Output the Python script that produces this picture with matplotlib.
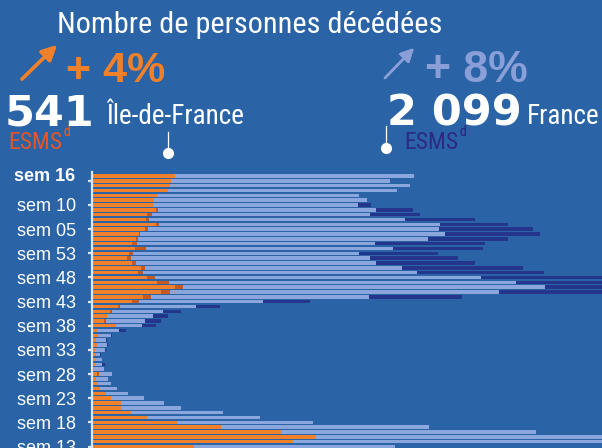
import matplotlib
matplotlib.use("Agg")
import matplotlib.pyplot as plt
from matplotlib.lines import Line2D
from matplotlib import font_manager
import numpy as np

# ---- data (top row = week 16 of 2021, bottom row = week 13 of 2020) ----
weeks = list(range(16, 0, -1)) + list(range(53, 12, -1))
fr_hosp = [2099, 1945, 2075, 1993, 1743, 1793, 1734, 1854, 1815, 2043,
           2273, 2262, 2304, 2193, 1845, 1964, 1743, 1815, 1852, 2023,
           2121, 2540, 2766, 2956, 2658, 1808, 1119, 680, 465, 398,
           348, 328, 176, 126, 95, 98, 85, 54, 65, 67,
           80, 132, 104, 124, 167, 235, 339, 473, 580, 858,
           1095, 1445, 2197, 2895, 3700, 3500, 1976]
fr_esms = [0, 0, 0, 0, 0, 0, 85, 239, 326, 458,
           439, 613, 619, 524, 717, 588, 517, 576, 647, 786,
           828, 950, 900, 800, 850, 606, 304, 155, 117, 100,
           106, 89, 46, 8, 7, 7, 8, 5, 0, 18,
           0, 0, 0, 0, 0, 0, 0, 0, 0, 0,
           0, 0, 0, 0, 0, 0, 0]
idf_hosp = [541, 515, 509, 497, 426, 408, 400, 419, 361, 354,
            419, 348, 308, 292, 263, 284, 243, 230, 263, 321,
            302, 361, 426, 541, 450, 334, 263, 171, 121, 102,
            80, 160, 35, 41, 30, 37, 20, 30, 20, 20,
            17, 35, 30, 37, 56, 93, 124, 189, 191, 258,
            363, 554, 845, 1236, 1464, 1314, 667]
idf_esms = [0, 0, 0, 0, 0, 0, 0, 11, 35, 20,
            20, 22, 8, 12, 31, 68, 26, 24, 28, 24,
            31, 50, 80, 52, 59, 50, 44, 13, 11, 0,
            11, 0, 0, 0, 0, 0, 0, 0, 0, 0,
            0, 11, 0, 0, 0, 0, 0, 0, 0, 0,
            0, 0, 0, 0, 0, 0, 0]

BG = "#2a64a6"
ORANGE = "#f0802a"
DARK_ORANGE = "#c45a22"
LIGHT = "#8aa6dc"
NAVY = "#24368c"
AXIS = "#dfe4ee"
LAVENDER = "#8a9fd8"

# pick a condensed family if one is installed, otherwise shrink Liberation Sans
installed = {f.name for f in font_manager.fontManager.ttflist}
narrow_name = None
for cand in ["Liberation Sans Narrow", "DejaVu Sans Condensed", "Roboto Condensed",
             "Open Sans Condensed"]:
    if cand in installed:
        narrow_name = cand
        break
if narrow_name is not None:
    NARROW = [narrow_name, "DejaVu Sans"]
    K = 1.0
else:
    NARROW = ["Liberation Sans", "DejaVu Sans"]
    K = 0.86
SANS = ["Liberation Sans", "DejaVu Sans"]

W, H = 602, 448
fig = plt.figure(figsize=(W / 100, H / 100), dpi=100, facecolor=BG)

x_left = 91.7
ax = fig.add_axes([x_left / W, 0, (W - x_left) / W, (H - 172) / H])
ax.set_facecolor(BG)

rows = np.arange(len(weeks))
fr_hosp_a = np.array(fr_hosp)
idf_hosp_a = np.array(idf_hosp)
bh = 0.72
ax.barh(rows, fr_hosp_a, height=bh, color=LIGHT, zorder=2)
ax.barh(rows, fr_esms, left=fr_hosp_a, height=bh, color=NAVY, zorder=2)
ax.barh(rows, idf_hosp_a, height=bh, color=ORANGE, zorder=3)
ax.barh(rows, idf_esms, left=idf_hosp_a, height=bh, color=DARK_ORANGE, zorder=3)

ax.set_xlim(0, 3327)
ax.set_ylim(56.31, -0.83)
for s in ["top", "right", "bottom"]:
    ax.spines[s].set_visible(False)
ax.spines["left"].set_color(AXIS)
ax.spines["left"].set_linewidth(1.6)
ax.spines["left"].set_zorder(5)
ax.set_xticks([])

tick_rows = rows[1::5]
tick_labels = ["" if i == 1 else "sem %02d" % weeks[i] for i in tick_rows]
ax.set_yticks(tick_rows)
ax.set_yticklabels(tick_labels, fontsize=13, color="white", family=SANS)
ax.tick_params(axis="y", length=3, width=1.6, color=AXIS, pad=8.5)
ax.text(-0.033, 0, "sem %02d" % weeks[0], transform=ax.get_yaxis_transform(),
        ha="right", va="center", fontsize=13, fontweight="bold", color="white",
        family=SANS, clip_on=False)


def fx(x):
    return x / W


def fy(y):
    return 1 - y / H


# ---- header ----
fig.text(fx(57), fy(33), "Nombre de personnes décédées", color="white",
         fontsize=21.8 * K, family=NARROW, va="baseline", ha="left")

fig.add_artist(plt.annotate("", xy=(fx(59), fy(43)), xytext=(fx(20), fy(81)),
                            xycoords="figure fraction", textcoords="figure fraction",
                            arrowprops=dict(arrowstyle="-|>,head_length=0.9,head_width=0.45",
                                            color=ORANGE, lw=2.4)))
fig.text(fx(66), fy(82), "+ 4%", color=ORANGE, fontsize=31, fontweight="bold",
         family=SANS, va="baseline", ha="left")

fig.add_artist(plt.annotate("", xy=(fx(416), fy(46)), xytext=(fx(383), fy(80)),
                            xycoords="figure fraction", textcoords="figure fraction",
                            arrowprops=dict(arrowstyle="-|>,head_length=0.8,head_width=0.4",
                                            color=LAVENDER, lw=1.8)))
fig.text(fx(425), fy(82), "+ 8%", color=LAVENDER, fontsize=32, fontweight="bold",
         family=SANS, va="baseline", ha="left")

fig.text(fx(5), fy(125), "541", color="white", fontsize=31, fontweight="bold",
         family="DejaVu Sans", va="baseline", ha="left")
fig.text(fx(106), fy(124), "Île-de-France", color="white", fontsize=19.5 * K,
         family=NARROW, va="baseline", ha="left")
t1 = fig.text(fx(8), fy(149), "ESMS", color="#e2562a", fontsize=17 * K,
              family=NARROW, va="baseline", ha="left")
fig.add_artist(plt.annotate("d", xy=(1.03, 0.66), xycoords=t1, color="#e2562a",
                            fontsize=10, family=NARROW, va="bottom", ha="left"))

fig.text(fx(387), fy(125), "2 099", color="white", fontsize=31, fontweight="bold",
         family="DejaVu Sans", va="baseline", ha="left")
fig.text(fx(527), fy(124), "France", color="white", fontsize=19.5 * K,
         family=NARROW, va="baseline", ha="left")
t2 = fig.text(fx(404), fy(149), "ESMS", color="#2d2a85", fontsize=17 * K,
              family=NARROW, va="baseline", ha="left")
fig.add_artist(plt.annotate("d", xy=(1.03, 0.66), xycoords=t2, color="#2d2a85",
                            fontsize=10, family=NARROW, va="bottom", ha="left"))

# pointer lines with dots
for (x, y0, y1) in [(168, 132, 153), (386, 126, 148)]:
    fig.add_artist(Line2D([fx(x), fx(x)], [fy(y0), fy(y1)], color="white",
                          lw=0.9, transform=fig.transFigure))
    fig.add_artist(Line2D([fx(x)], [fy(y1)], marker="o", markersize=7,
                          color="white", transform=fig.transFigure))

fig.savefig("out.png", dpi=100, facecolor=BG)
